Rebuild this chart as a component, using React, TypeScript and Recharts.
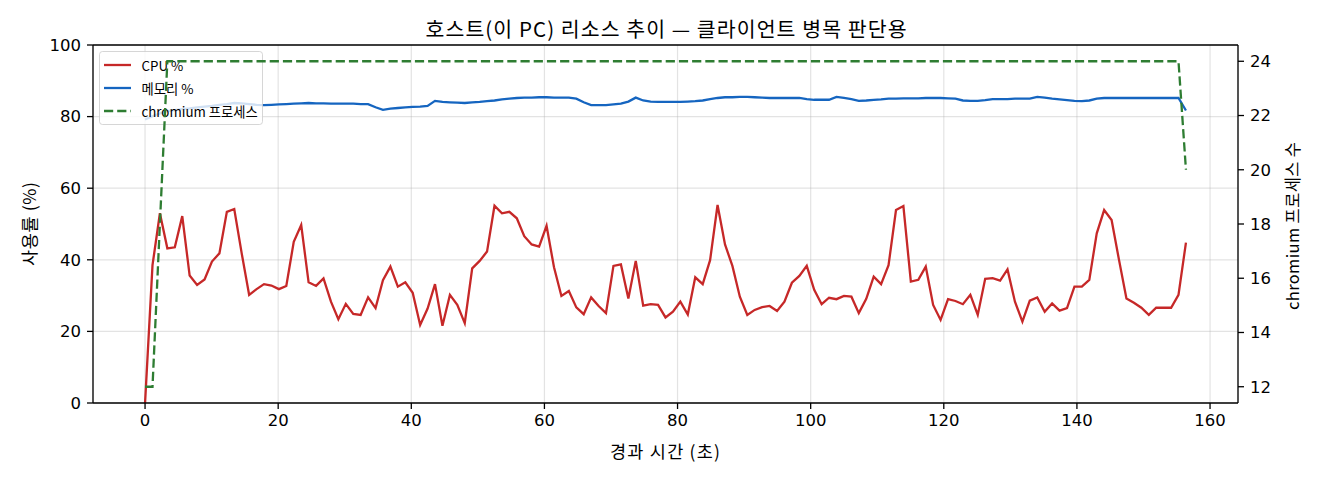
import React from 'react';
import { ComposedChart, Line, XAxis, YAxis, CartesianGrid, ReferenceLine, Legend } from 'recharts';

const FONT_CJK = "'Noto Sans CJK KR', 'Noto Sans', sans-serif";
const FONT_NUM = "'DejaVu Sans', 'Noto Sans CJK KR', sans-serif";

const TITLE = '호스트(이 PC) 리소스 추이 — 클라이언트 병목 판단용';
const X_LABEL = '경과 시간 (초)';
const Y_LABEL = '사용률 (%)';
const Y2_LABEL = 'chromium 프로세스 수';
const SERIES_NAMES = ['CPU %', '메모리 %', 'chromium 프로세스'];

const X_TICKS = [0, 20, 40, 60, 80, 100, 120, 140, 160];
const Y_TICKS = [0, 20, 40, 60, 80, 100];
const Y2_TICKS = [12, 14, 16, 18, 20, 22, 24];

// elapsed seconds
const TIMES = [
  0, 1.12, 2.23, 3.35, 4.47, 5.59, 6.7, 7.82, 8.94, 10.05,
  11.17, 12.29, 13.4, 14.52, 15.64, 16.76, 17.87, 18.99, 20.11, 21.22,
  22.34, 23.46, 24.57, 25.69, 26.81, 27.93, 29.04, 30.16, 31.28, 32.39,
  33.51, 34.63, 35.74, 36.86, 37.98, 39.1, 40.21, 41.33, 42.45, 43.56,
  44.68, 45.8, 46.91, 48.03, 49.15, 50.27, 51.38, 52.5, 53.62, 54.73,
  55.85, 56.97, 58.08, 59.2, 60.32, 61.44, 62.55, 63.67, 64.79, 65.9,
  67.02, 68.14, 69.25, 70.37, 71.49, 72.61, 73.72, 74.84, 75.96, 77.07,
  78.19, 79.31, 80.42, 81.54, 82.66, 83.78, 84.89, 86.01, 87.13, 88.24,
  89.36, 90.48, 91.59, 92.71, 93.83, 94.95, 96.06, 97.18, 98.3, 99.41,
  100.53, 101.65, 102.76, 103.88, 105.0, 106.12, 107.23, 108.35, 109.47, 110.58,
  111.7, 112.82, 113.93, 115.05, 116.17, 117.29, 118.4, 119.52, 120.64, 121.75,
  122.87, 123.99, 125.1, 126.22, 127.34, 128.46, 129.57, 130.69, 131.81, 132.92,
  134.04, 135.16, 136.27, 137.39, 138.51, 139.63, 140.74, 141.86, 142.98, 144.09,
  145.21, 146.33, 147.44, 148.56, 149.68, 150.8, 151.91, 153.03, 154.15, 155.26,
  156.38,
];

const CPU = [
  0, 38.5, 53, 43.2, 43.5, 52.2, 35.6, 33, 34.5, 39.5,
  41.8, 53.4, 54.2, 41.8, 30.2, 31.8, 33.2, 32.8, 31.8, 32.7,
  45, 49.7, 33.7, 32.7, 34.8, 28.3, 23.4, 27.7, 24.9, 24.6,
  29.5, 26.5, 34.3, 38.1, 32.5, 33.7, 30.8, 21.8, 26.4, 33.2,
  21.6, 30.2, 27.4, 22.3, 37.6, 39.7, 42.3, 55.1, 53, 53.4,
  51.6, 46.6, 44.3, 43.7, 49.5, 37.9, 29.9, 31.3, 26.7, 24.8,
  29.5, 27.1, 25.1, 38.3, 38.7, 29.2, 39.7, 27.2, 27.6, 27.4,
  23.9, 25.5, 28.3, 24.7, 35.1, 33.2, 39.9, 55.3, 44.3, 38.3,
  29.7, 24.6, 26, 26.8, 27.1, 25.7, 28.3, 33.6, 35.5, 38.3,
  31.6, 27.6, 29.4, 29, 29.9, 29.7, 25.1, 29.1, 35.3, 33.2,
  38.5, 53.9, 55, 33.9, 34.4, 38.1, 27.4, 23.2, 29, 28.5,
  27.6, 30.2, 24.6, 34.7, 34.9, 34.2, 37.3, 28.3, 22.7, 28.6,
  29.5, 25.5, 27.8, 25.8, 26.5, 32.5, 32.5, 34.4, 47.4, 53.9,
  51.1, 39.9, 29.2, 28, 26.6, 24.6, 26.6, 26.6, 26.6, 30.2,
  44.8,
];

const MEM = [
  79.2, 80.1, 80.9, 81.5, 81.8, 82.1, 82.3, 82.6, 82.8, 83.0,
  83.3, 83.5, 83.8, 83.7, 83.5, 83.3, 83.2, 83.3, 83.4, 83.5,
  83.6, 83.7, 83.8, 83.7, 83.7, 83.6, 83.6, 83.6, 83.6, 83.5,
  83.5, 82.6, 81.9, 82.2, 82.4, 82.6, 82.7, 82.8, 83.0, 84.4,
  84.1, 84.0, 83.9, 83.8, 84.0, 84.1, 84.3, 84.5, 84.8, 85.0,
  85.2, 85.3, 85.3, 85.4, 85.4, 85.3, 85.3, 85.3, 85.0, 84.0,
  83.2, 83.2, 83.2, 83.4, 83.6, 84.2, 85.3, 84.5, 84.2, 84.1,
  84.1, 84.1, 84.1, 84.2, 84.3, 84.5, 84.9, 85.2, 85.4, 85.4,
  85.5, 85.5, 85.4, 85.3, 85.2, 85.2, 85.2, 85.2, 85.2, 84.9,
  84.7, 84.7, 84.7, 85.5, 85.2, 84.9, 84.4, 84.5, 84.7, 84.8,
  85.0, 85.0, 85.1, 85.1, 85.1, 85.2, 85.2, 85.2, 85.1, 85.0,
  84.5, 84.4, 84.4, 84.6, 84.9, 84.9, 84.9, 85.0, 85.0, 85.0,
  85.5, 85.3, 85.0, 84.8, 84.6, 84.4, 84.3, 84.5, 85.0, 85.2,
  85.2, 85.2, 85.2, 85.2, 85.2, 85.2, 85.2, 85.2, 85.2, 85.2,
  81.7,
];

const PROC = [
  12, 12, 18, 24, 24, 24, 24, 24, 24, 24,
  24, 24, 24, 24, 24, 24, 24, 24, 24, 24,
  24, 24, 24, 24, 24, 24, 24, 24, 24, 24,
  24, 24, 24, 24, 24, 24, 24, 24, 24, 24,
  24, 24, 24, 24, 24, 24, 24, 24, 24, 24,
  24, 24, 24, 24, 24, 24, 24, 24, 24, 24,
  24, 24, 24, 24, 24, 24, 24, 24, 24, 24,
  24, 24, 24, 24, 24, 24, 24, 24, 24, 24,
  24, 24, 24, 24, 24, 24, 24, 24, 24, 24,
  24, 24, 24, 24, 24, 24, 24, 24, 24, 24,
  24, 24, 24, 24, 24, 24, 24, 24, 24, 24,
  24, 24, 24, 24, 24, 24, 24, 24, 24, 24,
  24, 24, 24, 24, 24, 24, 24, 24, 24, 24,
  24, 24, 24, 24, 24, 24, 24, 24, 24, 24,
  20,
];

const COLORS = { cpu: '#c62828', mem: '#1565c0', proc: '#2e7d32' };
const X_DOMAIN: [number, number] = [-7.82, 164.2];
const Y2_DOMAIN: [number, number] = [11.4, 24.6];

const rows = TIMES.map((t, i) => ({ t, cpu: CPU[i], mem: MEM[i], proc: PROC[i] }));

const W = 1320;
const H = 480;
const LINE_W = 2.3;
const DASH = '9.2 4';

const LegendBox = () => {
  const items = [
    { name: SERIES_NAMES[0], color: COLORS.cpu, dash: undefined as string | undefined },
    { name: SERIES_NAMES[1], color: COLORS.mem, dash: undefined as string | undefined },
    { name: SERIES_NAMES[2], color: COLORS.proc, dash: DASH },
  ];
  return (
    <svg width={164} height={74} style={{ display: 'block', overflow: 'visible' }}>
      <rect x={0.5} y={0.5} width={163} height={73} rx={3} ry={3} fill="#ffffff" fillOpacity={0.8} stroke="#cccccc" strokeOpacity={0.8} />
      {items.map((it, k) => (
        <g key={it.name}>
          <line x1={5} x2={32} y1={14 + k * 23} y2={14 + k * 23} stroke={it.color} strokeWidth={LINE_W} strokeDasharray={it.dash} />
          <text x={42.5} y={14 + k * 23} dominantBaseline="central" fontSize={13.3} fontFamily={FONT_CJK} fill="#000">
            {it.name}
          </text>
        </g>
      ))}
    </svg>
  );
};

const tickStyle = { fill: '#000', fontSize: 16.5, fontFamily: FONT_NUM };
const axisLineStyle = { stroke: '#000', strokeWidth: 1.3 };

export default function App() {
  return (
    <div style={{ position: 'absolute', left: 0, top: 0, width: W, height: H, background: '#fff' }}>
      <div style={{ position: 'absolute', left: 0, top: 0 }}>
        <ComposedChart width={W} height={H} data={rows} margin={{ top: 45, right: 0, bottom: 0, left: 0 }}>
          <CartesianGrid yAxisId="left" stroke="#b0b0b0" strokeOpacity={0.35} strokeWidth={1.2} />
          <XAxis
            dataKey="t"
            type="number"
            domain={X_DOMAIN}
            ticks={X_TICKS}
            allowDataOverflow
            interval={0}
            height={77}
            tickSize={6}
            tickMargin={5}
            axisLine={axisLineStyle}
            tickLine={axisLineStyle}
            tick={tickStyle}
          />
          <YAxis
            yAxisId="left"
            domain={[0, 100]}
            ticks={Y_TICKS}
            allowDataOverflow
            interval={0}
            width={93}
            tickSize={6}
            tickMargin={6}
            axisLine={axisLineStyle}
            tickLine={axisLineStyle}
            tick={tickStyle}
          />
          <YAxis
            yAxisId="right"
            orientation="right"
            domain={Y2_DOMAIN}
            ticks={Y2_TICKS}
            allowDataOverflow
            interval={0}
            width={82}
            tickSize={6}
            tickMargin={6}
            axisLine={axisLineStyle}
            tickLine={axisLineStyle}
            tick={tickStyle}
          />
          <ReferenceLine yAxisId="left" y={100} stroke="#000" strokeWidth={1.3} />
          <Line yAxisId="left" dataKey="cpu" name={SERIES_NAMES[0]} type="linear" stroke={COLORS.cpu} strokeWidth={LINE_W} dot={false} activeDot={false} isAnimationActive={false} />
          <Line yAxisId="left" dataKey="mem" name={SERIES_NAMES[1]} type="linear" stroke={COLORS.mem} strokeWidth={LINE_W} dot={false} activeDot={false} isAnimationActive={false} />
          <Legend
            layout="horizontal"
            verticalAlign="middle"
            align="center"
            wrapperStyle={{ position: 'absolute', left: 99, top: 51, width: 164, height: 74 }}
            content={() => <LegendBox />}
          />
        </ComposedChart>
      </div>
      <div style={{ position: 'absolute', left: 0, top: 0, pointerEvents: 'none' }}>
        <ComposedChart width={W} height={H} data={rows} margin={{ top: 45, right: 82, bottom: 77, left: 93 }}>
          <XAxis dataKey="t" type="number" domain={X_DOMAIN} allowDataOverflow hide />
          <YAxis yAxisId="right" domain={Y2_DOMAIN} allowDataOverflow hide />
          <Line yAxisId="right" dataKey="proc" name={SERIES_NAMES[2]} type="linear" stroke={COLORS.proc} strokeWidth={LINE_W} strokeDasharray={DASH} dot={false} activeDot={false} isAnimationActive={false} />
        </ComposedChart>
      </div>
      <svg width={W} height={H} style={{ position: 'absolute', left: 0, top: 0, pointerEvents: 'none' }}>
        <text x={666} y={28} textAnchor="middle" dominantBaseline="central" fontSize={20.5} textLength={481} lengthAdjust="spacing" fontFamily={FONT_CJK} fill="#000">
          {TITLE}
        </text>
        <text x={665} y={450} textAnchor="middle" dominantBaseline="central" fontSize={17.5} textLength={110} lengthAdjust="spacing" fontFamily={FONT_CJK} fill="#000">
          {X_LABEL}
        </text>
        <text transform="translate(28,224) rotate(-90)" textAnchor="middle" dominantBaseline="central" fontSize={17.5} textLength={84} lengthAdjust="spacing" fontFamily={FONT_CJK} fill="#000">
          {Y_LABEL}
        </text>
        <text transform="translate(1292,226) rotate(-90)" textAnchor="middle" dominantBaseline="central" fontSize={16.5} textLength={168} lengthAdjust="spacing" fontFamily={FONT_CJK} fill="#000">
          {Y2_LABEL}
        </text>
      </svg>
    </div>
  );
}
